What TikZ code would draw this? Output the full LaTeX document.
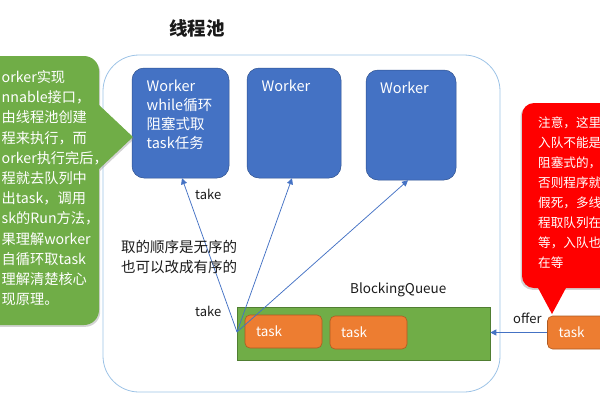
\documentclass[tikz,border=0pt]{standalone}
\usepackage{fontspec}
\setmainfont{Noto Sans CJK SC}
\usetikzlibrary{arrows.meta,shadows,calc}
\definecolor{wblue}{HTML}{4472C4}
\definecolor{wblueb}{HTML}{2F528F}
\definecolor{qgreen}{HTML}{70AD47}
\definecolor{qgreenb}{HTML}{507E32}
\definecolor{torange}{HTML}{ED7D31}
\definecolor{torangeb}{HTML}{AE5A21}
\definecolor{poolb}{HTML}{9DC3E6}
\definecolor{cred}{HTML}{FF0000}
\definecolor{ink}{HTML}{1A1A1A}
\newcommand{\fl}{\rule{0pt}{1em}}
\begin{document}
\begin{tikzpicture}[x=1pt,y=-1pt,
  pool/.style={draw=poolb,line width=0.8pt,rounded corners=36pt,minimum width=397pt,minimum height=337pt,inner sep=0pt},
  worker/.style={fill=wblue,draw=wblueb,line width=0.5pt,rounded corners=12pt,inner sep=0pt},
  wtext/.style={text=white,anchor=north west,inner sep=0pt,align=left},
  queue/.style={fill=qgreen,draw=qgreenb,line width=0.6pt,minimum width=253pt,minimum height=53pt,inner sep=0pt},
  taskbox/.style={fill=torange,draw=torangeb,line width=0.6pt,rounded corners=5pt,minimum width=77pt,minimum height=33pt,inner xsep=11pt,inner ysep=0pt,text width=55pt,align=left,text=white,font=\fontsize{13.5}{16}\selectfont},
  lbl/.style={text=ink,inner sep=0pt,anchor=base west},
  conn/.style={draw=wblue,line width=0.75pt,-{Triangle[width=6pt,length=6pt]}},
  shg/.style={drop shadow={opacity=0.35,shadow xshift=1.2pt,shadow yshift=-1.8pt}},
  shr/.style={drop shadow={opacity=0.35,shadow xshift=-1.5pt,shadow yshift=-1.8pt}}
]
\useasboundingbox (0,0) rectangle (600,400);

% pool
\node[pool] (pool) at (301.5,223.5) {};
\node[lbl,anchor=base,font=\fontsize{18.5}{22}\selectfont\bfseries] (title) at (197,35) {线程池};

% workers
\node[worker,minimum width=97pt,minimum height=110pt] (w1) at (180.5,123) {};
\node[worker,minimum width=94pt,minimum height=110pt] (w2) at (294,123) {};
\node[worker,minimum width=90pt,minimum height=110pt] (w3) at (411,125) {};
\node[wtext,font=\fontsize{14.5}{19.2}\selectfont] (w1t) at (146.5,76.5) {\fl Worker\\while循环\\阻塞式取\\task任务};
\node[wtext,anchor=base west,font=\fontsize{14.5}{19}\selectfont] (w2t) at (261.5,91) {Worker};
\node[wtext,anchor=base west,font=\fontsize{14.5}{19}\selectfont] (w3t) at (380,93) {Worker};

% queue and tasks
\node[queue] (q) at (363.5,333.5) {};
\node[taskbox] (t1) at (283.5,331.5) {task};
\node[taskbox] (t2) at (368.5,332.5) {task};
\node[taskbox] (t3) at (586,332.5) {task};
\node[lbl,font=\fontsize{13.5}{16}\selectfont] (bq) at (350,293) {BlockingQueue};

% connectors
\coordinate (src) at (237,332);
\draw[conn] (src) -- ($(w1.south)+(1.5,0)$);
\draw[conn] (src) -- ($(w2.south)+(-2,0)$);
\draw[conn] (src) -- ($(w3.south)+(-3,0)$);
\draw[conn] (t3.west) -- (t3.west -| q.east);

\node[lbl,font=\fontsize{13}{16}\selectfont] (take1) at (195,199) {take};
\node[lbl,font=\fontsize{13}{16}\selectfont] (take2) at (195,316) {take};
\node[lbl,font=\fontsize{13}{16}\selectfont] (offer) at (513,323) {offer};
\node[lbl,anchor=north west,align=left,font=\fontsize{14.5}{20}\selectfont] (order) at (121,237.5) {\fl 取的顺序是无序的\\也可以改成有序的};

% green callout
\node[fill=qgreen,rounded corners=15pt,minimum width=140pt,minimum height=269pt,inner sep=0pt,shg] (gbox) at (29,190.5) {};
\fill[qgreen,shg] (99,105) -- (133,137) -- (99,169) -- cycle;
\node[text=white,anchor=north west,inner sep=0pt,align=left,font=\fontsize{14.2}{20.2}\selectfont] (gtext) at (1.5,68)
 {\fl orker实现\\nnable接口，\\由线程池创建\\程来执行，而\\orker执行完后，\\程就去队列中\\出task，调用\\sk的Run方法，\\果理解worker\\自循环取task\\理解清楚核心\\现原理。};

% red callout
\node[fill=cred,rounded corners=12pt,minimum width=110pt,minimum height=185pt,inner sep=0pt,shr] (rbox) at (577,195.5) {};
\fill[cred] (537,286) -- (552,314) -- (567,286) -- cycle;
\node[text=white,anchor=north west,inner sep=0pt,align=left,font=\fontsize{12.6}{20}\selectfont] (rtext) at (538,114.5)
 {\fl 注意，这里\\入队不能是\\阻塞式的，\\否则程序就\\假死，多线\\程取队列在\\等，入队也\\在等};
\end{tikzpicture}
\end{document}
